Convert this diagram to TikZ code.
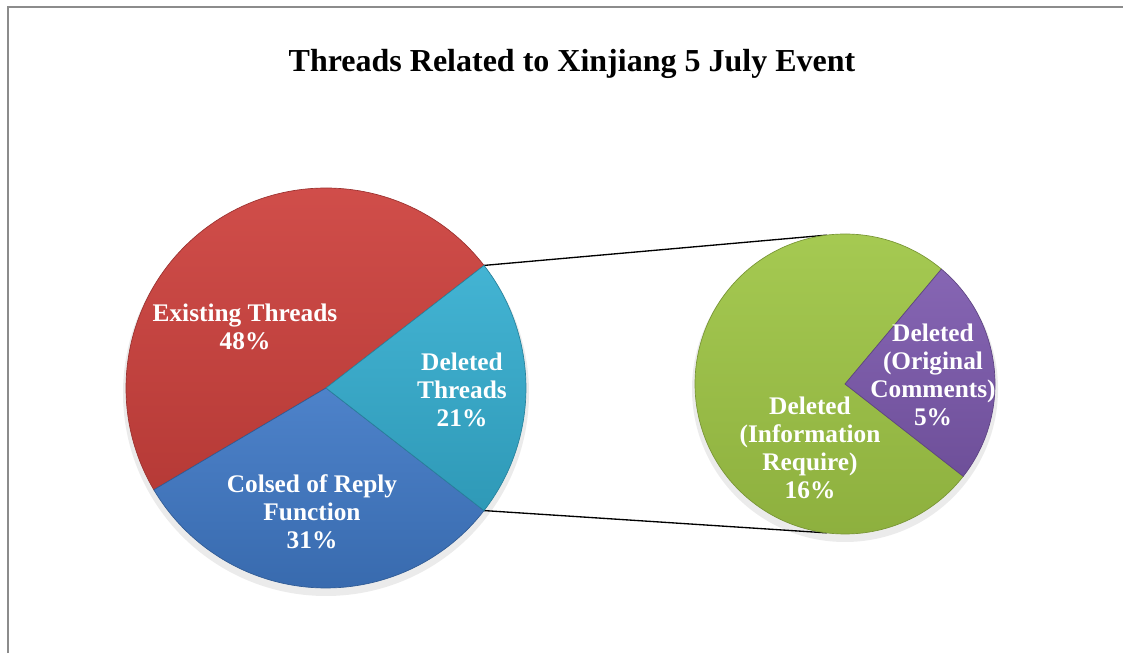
\documentclass[tikz,border=0pt]{standalone}
\usepackage{fontspec}
\setmainfont{Liberation Serif}
\usepackage{xcolor}
\usepackage{tikz}
\usetikzlibrary{calc}

\definecolor{existred}{HTML}{CF423E}
\definecolor{delteal}{HTML}{35AED0}
\definecolor{closedblue}{HTML}{4079C6}
\definecolor{infogreen}{HTML}{A0C746}
\definecolor{origpurple}{HTML}{7D5AAE}

\begin{document}
\begin{tikzpicture}[
  x=0.75pt,y=0.75pt,
  slice/.style={draw=#1!75!black,line width=0.5pt,top color=#1!93!white,bottom color=#1!88!black},
  pielabel/.style={text=white,align=center,font=\bfseries\fontsize{19}{21}\selectfont},
  link/.style={draw=black,line width=1pt},
  frame/.style={draw=black!45,line width=1.5pt}
]
\useasboundingbox (0,0) rectangle (1123,653);
\draw[frame] (8,0) -- (8,646) -- (1123,646);

\node[font=\bfseries\fontsize{24}{28}\selectfont,anchor=base] (title) at (572,581) {Threads Related to Xinjiang 5 July Event};

\coordinate (leftc) at (326,265);
\coordinate (rightc) at (845,269);
\coordinate (lt) at ($(leftc)+(37.8:200)$);
\coordinate (lb) at ($(leftc)+(-37.8:200)$);
\coordinate (rt) at ($(rightc)+(97:150)$);
\coordinate (rb) at ($(rightc)+(263:150)$);

\fill[black!8] ($(leftc)+(0,-5)$) circle (203);
\fill[black!8] ($(rightc)+(0,-5)$) circle (153);

\draw[link] (lt) -- (rt);
\draw[link] (lb) -- (rb);

\path[slice=existred] (leftc) -- (lt) arc[start angle=37.8,end angle=210.6,radius=200] -- cycle;
\path[slice=closedblue] (leftc) -- ($(leftc)+(210.6:200)$) arc[start angle=210.6,end angle=322.2,radius=200] -- cycle;
\path[slice=delteal] (leftc) -- (lb) arc[start angle=-37.8,end angle=37.8,radius=200] -- cycle;

\path[slice=infogreen] (rightc) -- ($(rightc)+(50:150)$) arc[start angle=50,end angle=322,radius=150] -- cycle;
\path[slice=origpurple] (rightc) -- ($(rightc)+(-38:150)$) arc[start angle=-38,end angle=50,radius=150] -- cycle;

\node[pielabel] (existing) at (245,326) {Existing Threads\\48\%};
\node[pielabel] (deleted) at (462,263) {Deleted\\Threads\\21\%};
\node[pielabel] (closed) at (312,141) {Colsed of Reply\\Function\\31\%};
\node[pielabel] (info) at (810,205) {Deleted\\(Information\\Require)\\16\%};
\node[pielabel] (orig) at (933,278) {Deleted\\(Original\\Comments)\\5\%};
\end{tikzpicture}
\end{document}
